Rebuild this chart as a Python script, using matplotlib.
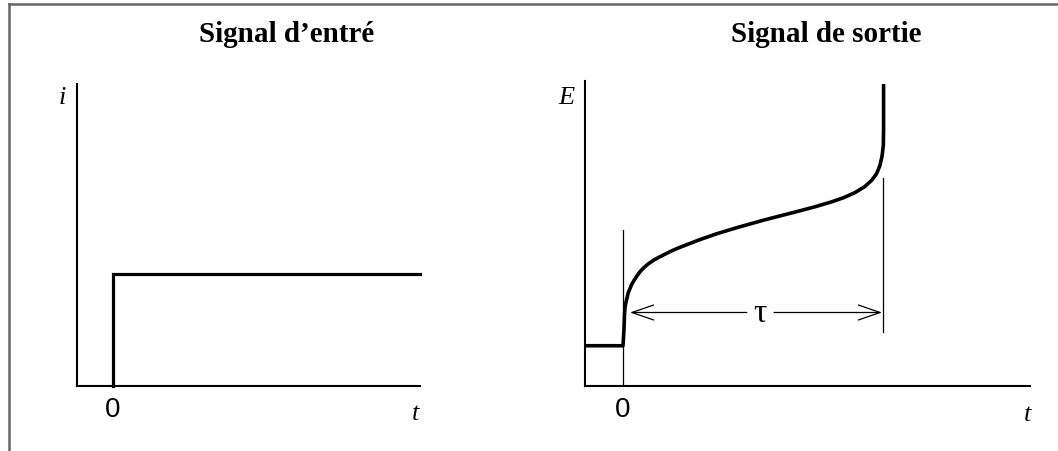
import matplotlib
matplotlib.use("Agg")
import matplotlib.pyplot as plt
from matplotlib.lines import Line2D

# Input signal: current step applied at t = 0
input_t = [0.0, 0.0, 1.181]
input_i = [0.0, 36.7, 36.7]

# Output signal: potential response (chronopotentiogram), transition time tau = 1
output_t = [-0.146, 0.0, 0.004, 0.006, 0.008, 0.0115, 0.020, 0.033, 0.043,
            0.053, 0.065, 0.078, 0.095, 0.117, 0.140, 0.168, 0.200, 0.232,
            0.296, 0.360, 0.437, 0.500, 0.546, 0.610, 0.674, 0.740, 0.803,
            0.850, 0.892, 0.930, 0.957, 0.975, 0.988, 0.996, 1.001, 1.002,
            1.002]
output_E = [13.2, 13.2, 18.7, 23.6, 25.9, 27.4, 30.5, 33.2, 34.7,
            36.0, 37.4, 38.6, 39.9, 41.2, 42.3, 43.5, 44.8, 45.9,
            48.0, 49.9, 51.9, 53.4, 54.5, 55.9, 57.3, 58.8, 60.4,
            61.8, 63.4, 65.4, 67.5, 69.6, 72.3, 75.3, 78.8, 84.0,
            99.0]

tau = 1.0
arrow_E = 24.1

serif = "Liberation Serif"
sans = "Liberation Sans"

fig = plt.figure(figsize=(10.58, 4.52), dpi=100)
W, H = 1058, 452


def px_axes(x0, x1, ytop, ybot):
    return fig.add_axes([x0 / W, (H - ybot) / H, (x1 - x0) / W, (ybot - ytop) / H])


def fig_text(x, y, s, **kw):
    fig.text(x / W, 1 - y / H, s, **kw)


def style(ax):
    for side in ("top", "right"):
        ax.spines[side].set_visible(False)
    for side in ("left", "bottom"):
        ax.spines[side].set_linewidth(1.5)
        ax.spines[side].set_color("black")
    ax.set_xticks([])
    ax.set_yticks([])
    ax.patch.set_alpha(0)


italic = dict(fontfamily=serif, fontstyle="italic", fontsize=19,
              ha="center", va="center")
digit = dict(fontfamily=sans, fontsize=20, ha="center", va="center")
title = dict(fontfamily=serif, fontweight="bold", fontsize=21,
             ha="center", va="baseline")

# ---- left panel: input signal ----
axL = px_axes(77, 420, 85, 387)
style(axL)
axL.set_xlim(-0.138, 1.181)
axL.set_ylim(0, 99.0)
axL.plot(input_t, input_i, color="black", lw=2.3, solid_joinstyle="miter",
         clip_on=False)
fig_text(287, 42, "Signal d\u2019entré", **title)
fig_text(62, 98, "i", **italic)
fig_text(113, 410, "0", **digit)
fig_text(416, 414, "t", **italic)

# ---- right panel: output signal ----
axR = px_axes(585, 1030, 82, 387)
style(axR)
axR.set_xlim(-0.146, 1.565)
axR.set_ylim(0, 100)
axR.plot(output_t, output_E, color="black", lw=2.6, solid_joinstyle="round",
         solid_capstyle="butt", clip_on=False)
# thin markers at t = 0 and t = tau
axR.plot([0, 0], [0, 51.0], color="black", lw=0.9)
axR.plot([tau, tau], [17.7, 68.2], color="black", lw=0.9)
# double arrow for the transition time
arrow_kw = dict(arrowstyle="->,head_length=0.58,head_width=0.2",
                color="black", lw=0.9, shrinkA=0, shrinkB=0,
                mutation_scale=27)
axR.annotate("", xy=(0.027, arrow_E), xytext=(0.476, arrow_E),
             arrowprops=arrow_kw)
axR.annotate("", xy=(0.996, arrow_E), xytext=(0.581, arrow_E),
             arrowprops=arrow_kw)
axR.text(0.527, arrow_E, "\u03c4", fontfamily=serif, fontsize=24,
         ha="center", va="center")
fig_text(826, 42, "Signal de sortie", **title)
fig_text(566, 98, "E", **italic)
fig_text(623, 410, "0", **digit)
fig_text(1028, 415, "t", **italic)

# grey frame along the top and left edges
frame = "#666666"
fig.add_artist(Line2D([9 / W, 1.0], [1 - 5 / H, 1 - 5 / H], color=frame,
                      lw=1.8, transform=fig.transFigure))
fig.add_artist(Line2D([9 / W, 9 / W], [0.0, 1 - 5 / H], color=frame,
                      lw=1.8, transform=fig.transFigure))

fig.savefig("out.png", dpi=100, facecolor="white")
